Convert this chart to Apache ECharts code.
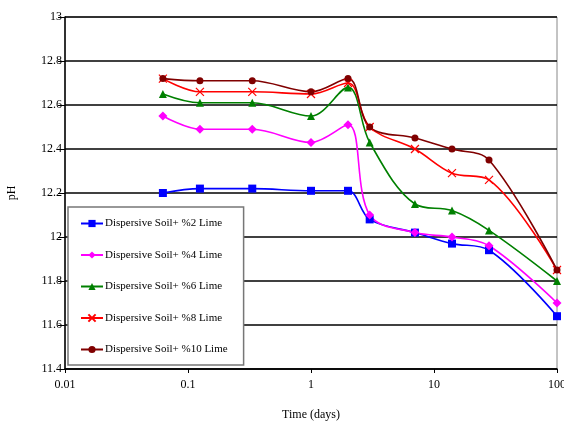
<!DOCTYPE html>
<html><head><meta charset="utf-8">
<script src="https://cdn.jsdelivr.net/npm/echarts@6/dist/echarts.min.js"></script>
<style>html,body{margin:0;padding:0;background:#fff}#c{width:564px;height:421px}</style>
</head><body><div id="c"></div>
<script>
var days = [0.0625, 0.125, 0.333, 1, 2, 3, 7, 14, 28, 100];
var lime2 = [12.20, 12.22, 12.22, 12.21, 12.21, 12.08, 12.02, 11.97, 11.94, 11.64];
var lime4 = [12.55, 12.49, 12.49, 12.43, 12.51, 12.10, 12.02, 12.00, 11.96, 11.70];
var lime6 = [12.65, 12.61, 12.61, 12.55, 12.68, 12.43, 12.15, 12.12, 12.03, 11.80];
var lime8 = [12.72, 12.66, 12.66, 12.65, 12.70, 12.50, 12.40, 12.29, 12.26, 11.85];
var lime10 = [12.72, 12.71, 12.71, 12.66, 12.72, 12.50, 12.45, 12.40, 12.35, 11.85];
var xTickLabels = ['0.01', '0.1', '1', '10', '100'];
var names = ['Dispersive Soil+ %2 Lime','Dispersive Soil+ %4 Lime','Dispersive Soil+ %6 Lime','Dispersive Soil+ %8 Lime','Dispersive Soil+ %10 Lime'];

function pair(v){ return days.map(function(d,i){ return [d, v[i]]; }); }
var font = 'Liberation Serif';
function mk(name, vals, color, symbol, size, extra){
  var s = {
    name: name, type: 'line', smooth: 0.35, data: pair(vals),
    symbol: symbol, symbolSize: size, showSymbol: true,
    lineStyle: {color: color, width: 1.6},
    itemStyle: {color: color},
    emphasis: {disabled: true}
  };
  if (extra) Object.assign(s, extra);
  return s;
}
var chart = echarts.init(document.getElementById('c'), null, {renderer: 'canvas'});
chart.setOption({
  animation: false,
  backgroundColor: '#fff',
  textStyle: {fontFamily: font},
  grid: {left: 65, right: 7, top: 17, bottom: 52, outerBoundsMode: 'none', containLabel: false,
    show: true, borderColor: '#888', borderWidth: 1, backgroundColor: 'transparent'},
  xAxis: {
    type: 'log', logBase: 10, min: 0.01, max: 100,
    name: 'Time (days)', nameLocation: 'middle', nameGap: 40,
    nameTextStyle: {fontFamily: font, fontSize: 12, color: '#000'},
    axisLine: {lineStyle: {color: '#000', width: 1.5}},
    axisTick: {show: true, length: 4, lineStyle: {color: '#000'}},
    minorTick: {show: false},
    axisLabel: {fontFamily: font, fontSize: 12, color: '#000', margin: 10,
      formatter: function(v){ var k = Math.round(Math.log10(v)); return xTickLabels[k+2]; }},
    splitLine: {show: false}
  },
  yAxis: {
    type: 'value', min: 11.4, max: 13, interval: 0.2,
    name: 'pH', nameLocation: 'middle', nameGap: 47, nameRotate: 90,
    nameTextStyle: {fontFamily: font, fontSize: 12, color: '#000'},
    axisLine: {show: true, lineStyle: {color: '#000', width: 1.5}},
    axisTick: {show: true, length: 7, lineStyle: {color: '#000'}},
    axisLabel: {fontFamily: font, fontSize: 12, color: '#000', margin: 3,
      formatter: function(v){ return String(parseFloat(v.toFixed(1))); }},
    splitLine: {show: true, lineStyle: {color: '#000', width: 1.6}}
  },
  legend: {
    show: true, orient: 'vertical', left: 68, top: 207,
    backgroundColor: '#fff', borderColor: '#777', borderWidth: 1.5,
    padding: [11, 16, 10, 12], itemGap: 20.5, itemWidth: 22, itemHeight: 9,
    textStyle: {fontFamily: font, fontSize: 11, color: '#000', padding: [0,0,0,-3]},
    data: names
  },
  series: [
    mk(names[0], lime2, '#0000FF', 'rect', 8),
    mk(names[1], lime4, '#FF00FF', 'diamond', 9),
    mk(names[2], lime6, '#008000', 'triangle', 8),
    mk(names[3], lime8, '#FF0000', 'path://M0,0L10,10M10,0L0,10', 8, {itemStyle: {color: '#FF0000', borderColor: '#FF0000', borderWidth: 1.2}}),
    mk(names[4], lime10, '#800000', 'circle', 7)
  ]
});
</script></body></html>
